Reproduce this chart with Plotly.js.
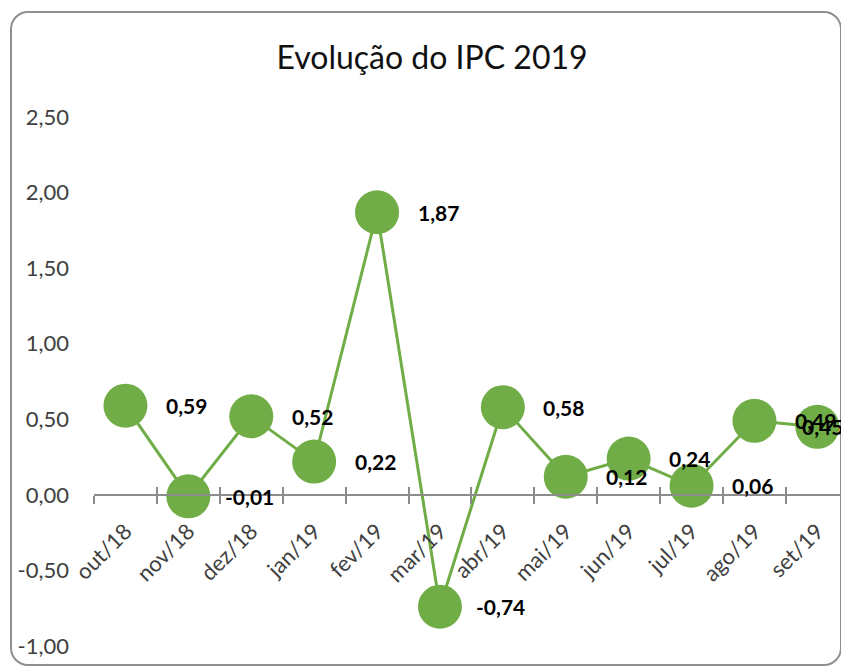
<!DOCTYPE html>
<html>
<head>
<meta charset="utf-8">
<script src="https://cdn.plot.ly/plotly-3.0.1.min.js"></script>
<style>
  html, body { margin: 0; padding: 0; background: #ffffff; overflow: hidden; }
  #wrap { position: relative; width: 841px; height: 671px; overflow: hidden; }
  #frame { position: absolute; left: 10px; top: 11px; width: 832px; height: 655px;
           border: 2px solid #8f8f8f; border-radius: 18px; box-sizing: border-box; }
  #chart { position: absolute; left: 0; top: 0; width: 841px; height: 671px; }
</style>
</head>
<body>
<div id="wrap">
  <div id="frame"></div>
  <div id="chart"></div>
</div>
<script>
const months = ["out/18", "nov/18", "dez/18", "jan/19", "fev/19", "mar/19",
                "abr/19", "mai/19", "jun/19", "jul/19", "ago/19", "set/19"];
const ipc = [0.59, -0.01, 0.52, 0.22, 1.87, -0.74, 0.58, 0.12, 0.24, 0.06, 0.49, 0.45];
const yTicks = [-1.0, -0.5, 0.0, 0.5, 1.0, 1.5, 2.0, 2.5];

const green = "#70AD47";
const fontFam = "Lato, 'Noto Sans', sans-serif";
const fmt = v => v.toFixed(2).replace(".", ",");

const traces = [
  {
    type: "scatter", mode: "lines+markers",
    x: months, y: ipc,
    line: { color: green, width: 3 },
    marker: { color: green, size: 44 },
    hoverinfo: "x+y"
  },
  {
    type: "scatter", mode: "markers",
    x: months, y: months.map(() => null),
    xaxis: "x2", yaxis: "y",
    showlegend: false, hoverinfo: "skip"
  }
];

const annotations = ipc.map((v, i) => ({
  x: months[i], y: v, xref: "x", yref: "y",
  text: "<b>" + fmt(v) + "</b>",
  showarrow: false,
  xshift: i === ipc.length - 1 ? 5 : 61,
  yshift: 0,
  font: { family: fontFam, size: 21, color: "#000000" }
}));

const xr = [-0.5, 11.376];
const zeroPos = (0 - (-1)) / 3.5;

const layout = {
  width: 841, height: 671,
  margin: { l: 94, r: 0, t: 117, b: 25, pad: 0 },
  paper_bgcolor: "rgba(0,0,0,0)",
  plot_bgcolor: "rgba(0,0,0,0)",
  separators: ",.",
  showlegend: false,
  title: {
    text: "Evolução do IPC 2019",
    x: 432 / 841, xref: "container", xanchor: "center",
    y: 1 - 58 / 671, yref: "container", yanchor: "middle",
    font: { family: fontFam, size: 32, color: "#111111" }
  },
  xaxis: {
    type: "category", categoryarray: months, range: xr,
    anchor: "free", position: zeroPos,
    showline: true, linecolor: "#8c8c8c", linewidth: 2,
    showgrid: false, zeroline: false,
    ticks: "outside", ticklen: 8, tickwidth: 2, tickcolor: "#8c8c8c",
    tickson: "boundaries",
    tickangle: -45,
    ticklabelstandoff: 14,
    tickfont: { family: fontFam, size: 22, color: "#404040" },
    fixedrange: true
  },
  xaxis2: {
    type: "category", categoryarray: months, range: xr,
    overlaying: "x", anchor: "free", position: zeroPos,
    showline: false, showgrid: false, zeroline: false,
    ticks: "inside", ticklen: 8, tickwidth: 2, tickcolor: "#8c8c8c",
    tickson: "boundaries", showticklabels: false,
    fixedrange: true
  },
  yaxis: {
    range: [-1, 2.5],
    tickmode: "array", tickvals: yTicks, ticktext: yTicks.map(fmt),
    showline: false, showgrid: false, zeroline: false,
    ticks: "", ticklabelstandoff: 24,
    tickfont: { family: fontFam, size: 22, color: "#404040" },
    fixedrange: true
  },
  annotations: annotations
};

Plotly.newPlot("chart", traces, layout, { displayModeBar: false, staticPlot: true });
</script>
</body>
</html>
